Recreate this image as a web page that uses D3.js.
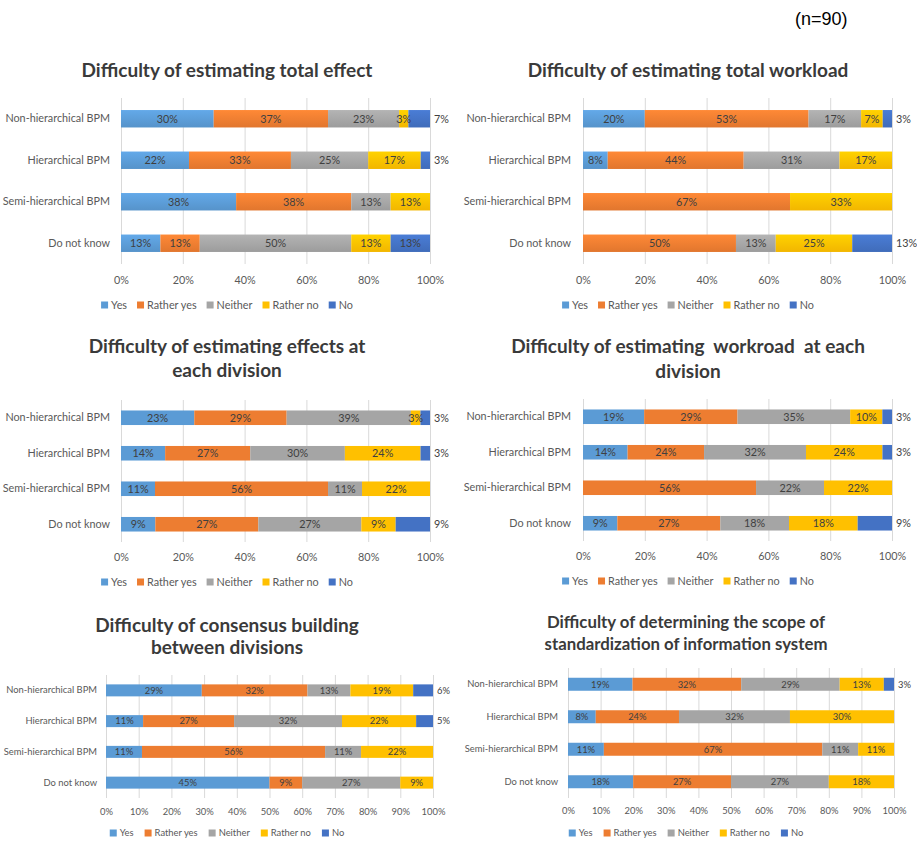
<!DOCTYPE html>
<html>
<head>
<meta charset="utf-8">
<script src="https://cdn.jsdelivr.net/npm/d3@7/dist/d3.min.js"></script>
<style>
  html, body { margin: 0; padding: 0; background: #fff; }
  svg { display: block; }
  text { font-family: Lato, "Open Sans", sans-serif; }
</style>
</head>
<body>
<svg id="chart" width="917" height="843"></svg>
<script>
// ---------------- DATA ----------------
const categories = ["Non-hierarchical BPM", "Hierarchical BPM", "Semi-hierarchical BPM", "Do not know"];
const seriesNames = ["Yes", "Rather yes", "Neither", "Rather no", "No"];
const seriesColors = ["#5B9BD5", "#ED7D31", "#A5A5A5", "#FFC000", "#4472C4"];
const ticksBy20 = [0, 20, 40, 60, 80, 100];
const ticksBy10 = [0, 10, 20, 30, 40, 50, 60, 70, 80, 90, 100];
const sampleNote = "(n=90)";

const titleTotalEffect = ["Difficulty of estimating total effect"];
const titleTotalWorkload = ["Difficulty of estimating total workload"];
const titleEffectsDivision = ["Difficulty of estimating effects at", "each division"];
const titleWorkroadDivision = ["Difficulty of estimating  workroad  at each", "division"];
const titleConsensus = ["Difficulty of consensus building", "between divisions"];
const titleScope = ["Difficulty of determining the scope of", "standardization of information system"];

// rows follow categories; columns follow seriesNames (percent labels as shown)
const totalEffect = [
  [30, 37, 23, 3, 7],
  [22, 33, 25, 17, 3],
  [38, 38, 13, 13, 0],
  [13, 13, 50, 13, 13]
];
const totalWorkload = [
  [20, 53, 17, 7, 3],
  [8, 44, 31, 17, 0],
  [0, 67, 0, 33, 0],
  [0, 50, 13, 25, 13]
];
const effectsDivision = [
  [23, 29, 39, 3, 3],
  [14, 27, 30, 24, 3],
  [11, 56, 11, 22, 0],
  [9, 27, 27, 9, 9]
];
const workroadDivision = [
  [19, 29, 35, 10, 3],
  [14, 24, 32, 24, 3],
  [0, 56, 22, 22, 0],
  [9, 27, 18, 18, 9]
];
const consensus = [
  [29, 32, 13, 19, 6],
  [11, 27, 32, 22, 5],
  [11, 56, 11, 22, 0],
  [45, 9, 27, 9, 0]
];
const scope = [
  [19, 32, 29, 13, 3],
  [8, 24, 32, 30, 0],
  [11, 67, 11, 11, 0],
  [18, 27, 27, 18, 0]
];

// ---------------- LAYOUT ----------------
const panels = [
  { title: titleTotalEffect, data: totalEffect, ticks: ticksBy20, cx: 227, titleY: [77], titleSize: 19,
    x0: 121, x1: 430, y0: 98, y1: 264, pad: 0.58, catX: 110, tickY: 284, legendY: 305,
    fs: 10.8, gradient: true, noInside: ["Do not know"] },
  { title: titleTotalWorkload, data: totalWorkload, ticks: ticksBy20, cx: 688, titleY: [77], titleSize: 19,
    x0: 583, x1: 892, y0: 98, y1: 264, pad: 0.58, catX: 571, tickY: 284, legendY: 305,
    fs: 10.8, gradient: true, noInside: [] },
  { title: titleEffectsDivision, data: effectsDivision, ticks: ticksBy20, cx: 227, titleY: [353, 377], titleSize: 19,
    x0: 121, x1: 430, y0: 400, y1: 542, pad: 0.59, catX: 110, tickY: 561, legendY: 582,
    fs: 10.8, gradient: false, noInside: [] },
  { title: titleWorkroadDivision, data: workroadDivision, ticks: ticksBy20, cx: 688, titleY: [353, 378], titleSize: 19,
    x0: 583, x1: 892, y0: 399, y1: 541, pad: 0.59, catX: 571, tickY: 560, legendY: 581,
    fs: 10.8, gradient: false, noInside: [] },
  { title: titleConsensus, data: consensus, ticks: ticksBy10, cx: 227, titleY: [632, 654], titleSize: 19,
    x0: 106, x1: 433, y0: 675, y1: 798, pad: 0.61, catX: 97, tickY: 815, legendY: 833,
    fs: 9.4, gradient: false, noInside: [] },
  { title: titleScope, data: scope, ticks: ticksBy10, cx: 686, titleY: [628, 650], titleSize: 16.8,
    x0: 568, x1: 894, y0: 668, y1: 798, pad: 0.6, catX: 558, tickY: 814, legendY: 833,
    fs: 9.4, gradient: false, noInside: [] }
];

const svg = d3.select("#chart");
const defs = svg.append("defs");
seriesColors.forEach((c, i) => {
  const g = defs.append("linearGradient").attr("id", "grad" + i)
    .attr("x1", 0).attr("y1", 0).attr("x2", 0).attr("y2", 1);
  g.append("stop").attr("offset", "0%").attr("stop-color", d3.color(c).brighter(0.25));
  g.append("stop").attr("offset", "100%").attr("stop-color", d3.color(c).darker(0.15));
});

svg.append("text").attr("x", 795).attr("y", 25)
  .style("font-family", "'Liberation Sans', Arial, sans-serif")
  .style("font-size", "18px").attr("fill", "#000").text(sampleNote);

panels.forEach(p => {
  const g = svg.append("g");
  const x = d3.scaleLinear().domain([0, 100]).range([p.x0, p.x1]);
  const y = d3.scaleBand().domain(categories).range([p.y0, p.y1]).paddingInner(p.pad).paddingOuter(p.pad / 2);

  // title
  const t = g.append("text").attr("text-anchor", "middle")
    .style("font-weight", "bold").style("font-size", p.titleSize + "px")
    .style("white-space", "pre").attr("fill", "#3A3A3A");
  p.title.forEach((line, i) => {
    t.append("tspan").attr("x", p.cx).attr("y", p.titleY[i]).style("white-space", "pre").text(line);
  });

  // gridlines + tick labels via axis
  const ax = g.append("g").attr("transform", `translate(0,${p.y1})`)
    .call(d3.axisBottom(x).tickValues(p.ticks).tickFormat(d => d + "%")
      .tickSize(-(p.y1 - p.y0)).tickPadding(0));
  ax.select(".domain").remove();
  ax.selectAll(".tick line").attr("stroke", "#D9D9D9").attr("stroke-width", 1);
  ax.selectAll(".tick text").attr("y", p.tickY - p.y1).attr("dy", 0)
    .style("font-family", "Lato, sans-serif").style("font-size", p.fs + "px").attr("fill", "#595959");

  // category labels
  const ay = g.append("g").attr("transform", `translate(${p.catX},0)`)
    .call(d3.axisLeft(y).tickSize(0).tickPadding(0));
  ay.select(".domain").remove();
  ay.selectAll(".tick text").style("font-family", "Lato, sans-serif")
    .style("font-size", p.fs + "px").attr("fill", "#595959");

  // stacked segments (100% stacked: normalized by row total)
  const rows = p.data.map((vals, ri) => {
    const total = d3.sum(vals);
    let acc = 0;
    return vals.map((v, si) => {
      const start = acc / total * 100;
      acc += v;
      return { cat: categories[ri], si, v, start, end: acc / total * 100 };
    });
  });
  const segs = rows.flat().filter(d => d.v > 0);

  g.append("g").selectAll("rect").data(segs).join("rect")
    .attr("x", d => x(d.start))
    .attr("width", d => x(d.end) - x(d.start))
    .attr("y", d => y(d.cat))
    .attr("height", y.bandwidth())
    .attr("fill", d => p.gradient ? `url(#grad${d.si})` : seriesColors[d.si]);

  const outside = d => d.si === 4 && !p.noInside.includes(d.cat);
  g.append("g").selectAll("text").data(segs).join("text")
    .attr("x", d => outside(d) ? x(100) + 4 : (x(d.start) + x(d.end)) / 2)
    .attr("y", d => y(d.cat) + y.bandwidth() / 2)
    .attr("dy", "0.35em")
    .attr("text-anchor", d => outside(d) ? "start" : "middle")
    .style("font-size", p.fs + "px")
    .attr("fill", "#404040")
    .text(d => d.v + "%");

  // legend centered under panel
  const lg = g.append("g");
  const items = lg.selectAll("g").data(seriesNames).join("g");
  items.append("rect").attr("width", 7).attr("height", 7).attr("y", p.legendY - 3.5)
    .attr("fill", (d, i) => seriesColors[i]);
  items.append("text").attr("x", 10).attr("y", p.legendY).attr("dy", "0.35em")
    .style("font-size", p.fs + "px").attr("fill", "#595959").text(d => d);
  let cursor = 0;
  const gap = p.fs > 10 ? 10 : 11;
  items.each(function () {
    const w = d3.select(this).select("text").node().getComputedTextLength() + 10;
    d3.select(this).attr("data-off", cursor);
    cursor += w + gap;
  });
  const totalW = cursor - gap;
  items.attr("transform", function () {
    return `translate(${p.cx - totalW / 2 + (+d3.select(this).attr("data-off"))},0)`;
  });
});
</script>
</body>
</html>
